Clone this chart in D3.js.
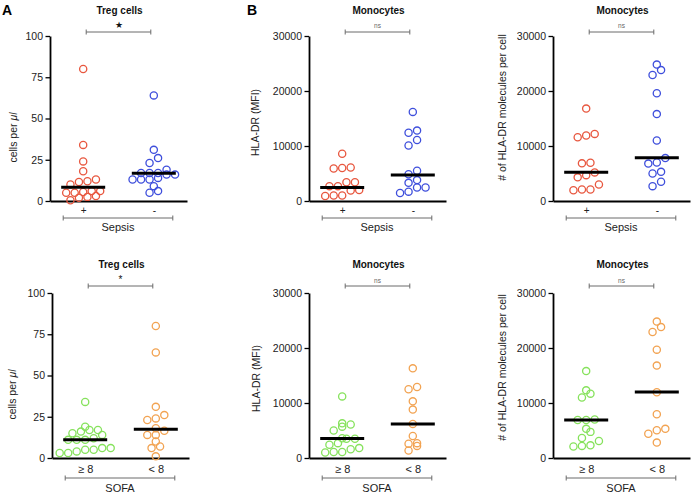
<!DOCTYPE html>
<html>
<head>
<meta charset="utf-8">
<script src="https://cdn.jsdelivr.net/npm/d3@7"></script>
<style>
  body { margin: 0; background: #fff; }
  svg { display: block; font-family: "Liberation Sans", Arial, Helvetica, sans-serif; }
</style>
</head>
<body>
<div id="chart"></div>
<script>
// ── groups ──
const sepsisGroups = ["+", "-"];
const sofaGroups = ["\u2265 8", "< 8"];

// ── tick labels ──
const tregTicks = [0, 25, 50, 75, 100];
const hlaTicks = [0, 10000, 20000, 30000];

// ── Treg cells per µl ──
const tregSepsisPos = [80, 34, 24, 18, 13, 12, 11.5, 10, 6, 5.5, 5, 5, 6, 2.5, 3, 2, 0.5];
const tregSepsisNeg = [64, 31, 26, 23, 19, 17, 17, 17, 16, 16, 14, 13, 13, 13, 9, 5, 6];
const tregSepsisMedian = [8.3, 16.8];
const tregSofaHigh = [34, 19, 16, 15, 17, 17, 14, 11, 11, 11, 12, 6, 5, 4, 3, 3, 5, 6];
const tregSofaLow = [80, 64, 31, 26, 23, 24, 18, 16.5, 14, 14, 10, 7, 6, 1];
const tregSofaMedian = [11, 17.4];

// ── HLA-DR (MFI) ──
const mfiSepsisPos = [8600, 6000, 5900, 6100, 3400, 3400, 2700, 2700, 2000, 1900, 1000, 900, 1000];
const mfiSepsisNeg = [16200, 12400, 12800, 11100, 10100, 5500, 4850, 3800, 3300, 2450, 2450, 1450, 1700];
const mfiSepsisMedian = [2450, 4750];
const mfiSofaHigh = [11200, 6300, 5000, 5700, 6100, 3500, 3500, 3600, 2700, 2400, 1800, 1100, 1000, 1100, 1600];
const mfiSofaLow = [16300, 12500, 12900, 10300, 8800, 6200, 4000, 2600, 2200, 2700, 1350];
const mfiSofaMedian = [3550, 6200];

// ── HLA-DR molecules per cell ──
const molSepsisPos = [16800, 11900, 11600, 12200, 6850, 6950, 4700, 4300, 5200, 2100, 1950, 2100, 3000];
const molSepsisNeg = [24800, 22900, 23800, 19600, 15800, 11000, 7800, 6800, 7000, 5300, 5000, 3500, 2700];
const molSepsisMedian = [5250, 7850];
const molSofaHigh = [15800, 11700, 11000, 12300, 6900, 6900, 7000, 5300, 4750, 3650, 3100, 2300, 2100, 2200];
const molSofaLow = [24800, 22900, 23800, 19700, 16800, 11950, 7950, 5300, 4400, 5050, 2800];
const molSofaMedian = [6900, 12000];

const C = { red: "#e8573f", blue: "#3f4fdc", green: "#86e25c", orange: "#f2a352", bracket: "#6a6a6a" };

// layout per row
const rows = [
  { top: 36, bottom: 201, titleY: 14, bracketY: 32, sigY: 27.5, labPad: 5.5, grpY: 218, nameY: 231 },
  { top: 293, bottom: 458, titleY: 268, bracketY: 286, sigY: 283, labPad: 7, grpY: 478, nameY: 491.5 },
];

const panels = [
  { row: 0, ox: 50, title: "Treg cells", ylab: "cells per", unit: true, labX: -37, labDy: 19, domain: [0, 100], ticks: tregTicks,
    groups: sepsisGroups, grpFont: 10, factor: "Sepsis", series: [tregSepsisPos, tregSepsisNeg], med: tregSepsisMedian,
    colors: [C.red, C.blue], sig: "\u2605", sigSize: 8.5 },
  { row: 0, ox: 309, title: "Monocytes", ylab: "HLA-DR (MFI)", labX: -53.5, labDy: 4, domain: [0, 30000], ticks: hlaTicks,
    groups: sepsisGroups, grpFont: 10, factor: "Sepsis", series: [mfiSepsisPos, mfiSepsisNeg], med: mfiSepsisMedian,
    colors: [C.red, C.blue], sig: "ns", sigSize: 6.5 },
  { row: 0, ox: 553, title: "Monocytes", ylab: "# of HLA-DR molecules per cell", labX: -51, labDy: -11, domain: [0, 30000], ticks: hlaTicks,
    groups: sepsisGroups, grpFont: 10, factor: "Sepsis", series: [molSepsisPos, molSepsisNeg], med: molSepsisMedian,
    colors: [C.red, C.blue], sig: "ns", sigSize: 6.5 },
  { row: 1, ox: 52, title: "Treg cells", ylab: "cells per", unit: true, labX: -40, labDy: 19, domain: [0, 100], ticks: tregTicks,
    groups: sofaGroups, grpFont: 11, factor: "SOFA", series: [tregSofaHigh, tregSofaLow], med: tregSofaMedian,
    colors: [C.green, C.orange], sig: "*", sigSize: 10 },
  { row: 1, ox: 309, title: "Monocytes", ylab: "HLA-DR (MFI)", labX: -52.5, labDy: 3, domain: [0, 30000], ticks: hlaTicks,
    groups: sofaGroups, grpFont: 11, factor: "SOFA", series: [mfiSofaHigh, mfiSofaLow], med: mfiSofaMedian,
    colors: [C.green, C.orange], sig: "ns", sigSize: 6.5 },
  { row: 1, ox: 553, title: "Monocytes", ylab: "# of HLA-DR molecules per cell", labX: -50.5, labDy: -8, domain: [0, 30000], ticks: hlaTicks,
    groups: sofaGroups, grpFont: 11, factor: "SOFA", series: [molSofaHigh, molSofaLow], med: molSofaMedian,
    colors: [C.green, C.orange], sig: "ns", sigSize: 6.5 },
];

const W = 696, H = 495, PW = 137, R = 3.6, GAP_X = 8.5, GAP_Y = 6.5;

const svg = d3.select("#chart").append("svg").attr("width", W).attr("height", H);
svg.append("rect").attr("width", W).attr("height", H).attr("fill", "#fff");

// Prism-like scatter: points whose pixel y falls within one row height are
// laid side by side, centred on the group
function swarm(values, y) {
  const pts = values.map((v) => ({ v, y: y(v) })).sort((a, b) => b.y - a.y);
  const out = [];
  let bin = [];
  const flush = () => {
    bin.forEach((p, j) => out.push({ ...p, x: (j - (bin.length - 1) / 2) * GAP_X }));
    bin = [];
  };
  pts.forEach((p) => {
    if (bin.length && bin[0].y - p.y >= GAP_Y) flush();
    bin.push(p);
  });
  flush();
  return out;
}

function drawPanel(p) {
  const L = rows[p.row];
  const h = L.bottom - L.top;
  const g = svg.append("g").attr("transform", `translate(${p.ox},${L.top})`);
  const y = d3.scaleLinear().domain(p.domain).range([h, 0]);
  const x = d3.scalePoint().domain(p.groups).range([0, PW]).padding(0.47);

  // y axis
  const yAx = g.append("g").call(
    d3.axisLeft(y).tickValues(p.ticks).tickFormat(d3.format("d"))
      .tickSize(4.5).tickSizeOuter(0).tickPadding(2.5));
  yAx.select(".domain").attr("stroke", "#000").attr("stroke-width", 1.8);
  yAx.selectAll(".tick line").attr("stroke", "#000").attr("stroke-width", 1.3);
  yAx.selectAll("text").attr("fill", "#222").style("font-size", "10.5px").style("font-family", null);

  // x axis (group labels)
  const xAx = g.append("g").attr("transform", `translate(0,${h})`)
    .call(d3.axisBottom(x).tickSize(0).tickSizeOuter(0).tickPadding(L.labPad));
  xAx.select(".domain").attr("stroke", "#000").attr("stroke-width", 1.8);
  xAx.selectAll("text").attr("fill", "#222").style("font-size", p.grpFont + "px").style("font-family", null);

  // y label
  const lab = g.append("text")
    .attr("transform", `translate(${p.labX},${h / 2 + p.labDy}) rotate(-90)`)
    .attr("text-anchor", "middle").attr("dy", "0.35em")
    .attr("fill", "#222").style("font-size", "10.5px")
    .text(p.ylab);
  if (p.unit) {
    lab.append("tspan").text(" \u03bc").style("font-style", "italic");
    lab.append("tspan").text("l").style("font-style", "italic");
  }

  // title
  svg.append("text").attr("x", p.ox + PW / 2 + 1).attr("y", L.titleY)
    .attr("text-anchor", "middle").attr("font-weight", "bold").attr("fill", "#111")
    .style("font-size", "10px").text(p.title);

  // significance bracket
  const sx0 = p.ox + x(p.groups[0]) + 3, sx1 = p.ox + x(p.groups[1]) - 3;
  const br = svg.append("g").attr("stroke", C.bracket).attr("stroke-width", 1).attr("fill", "none");
  br.append("line").attr("x1", sx0).attr("x2", sx1).attr("y1", L.bracketY).attr("y2", L.bracketY);
  [sx0, sx1].forEach((sx) => br.append("line").attr("x1", sx).attr("x2", sx).attr("y1", L.bracketY - 2.5).attr("y2", L.bracketY + 2.5));
  svg.append("text").attr("x", (sx0 + sx1) / 2).attr("y", L.sigY)
    .attr("text-anchor", "middle").attr("fill", p.sig === "ns" ? "#666" : "#111")
    .style("font-size", p.sigSize + "px").text(p.sig);

  // factor bracket
  const gx0 = p.ox + x(p.groups[0]) - 20, gx1 = p.ox + x(p.groups[1]) + 19;
  const fb = svg.append("g").attr("stroke", C.bracket).attr("stroke-width", 1).attr("fill", "none");
  fb.append("line").attr("x1", gx0).attr("x2", gx1).attr("y1", L.grpY).attr("y2", L.grpY);
  [gx0, gx1].forEach((gx) => fb.append("line").attr("x1", gx).attr("x2", gx).attr("y1", L.grpY - 2.5).attr("y2", L.grpY + 2.5));
  svg.append("text").attr("x", (gx0 + gx1) / 2).attr("y", L.nameY)
    .attr("text-anchor", "middle").attr("fill", "#222").style("font-size", "11px").text(p.factor);

  // points
  p.series.forEach((vals, i) => {
    const cx = x(p.groups[i]);
    g.append("g").selectAll("circle").data(swarm(vals, y)).join("circle")
      .attr("cx", (d) => cx + d.x).attr("cy", (d) => d.y).attr("r", R)
      .attr("fill", "none").attr("stroke", p.colors[i]).attr("stroke-width", 1.3);
  });

  // medians
  g.append("g").selectAll("line").data(p.med).join("line")
    .attr("x1", (d, i) => x(p.groups[i]) - 22).attr("x2", (d, i) => x(p.groups[i]) + 22)
    .attr("y1", (d) => y(d)).attr("y2", (d) => y(d))
    .attr("stroke", "#000").attr("stroke-width", 3);
}

panels.forEach(drawPanel);

// panel letters
svg.append("text").attr("x", 2).attr("y", 15).attr("font-weight", "bold").style("font-size", "14px").attr("fill", "#000").text("A");
svg.append("text").attr("x", 247).attr("y", 15).attr("font-weight", "bold").style("font-size", "14px").attr("fill", "#000").text("B");
</script>
</body>
</html>
